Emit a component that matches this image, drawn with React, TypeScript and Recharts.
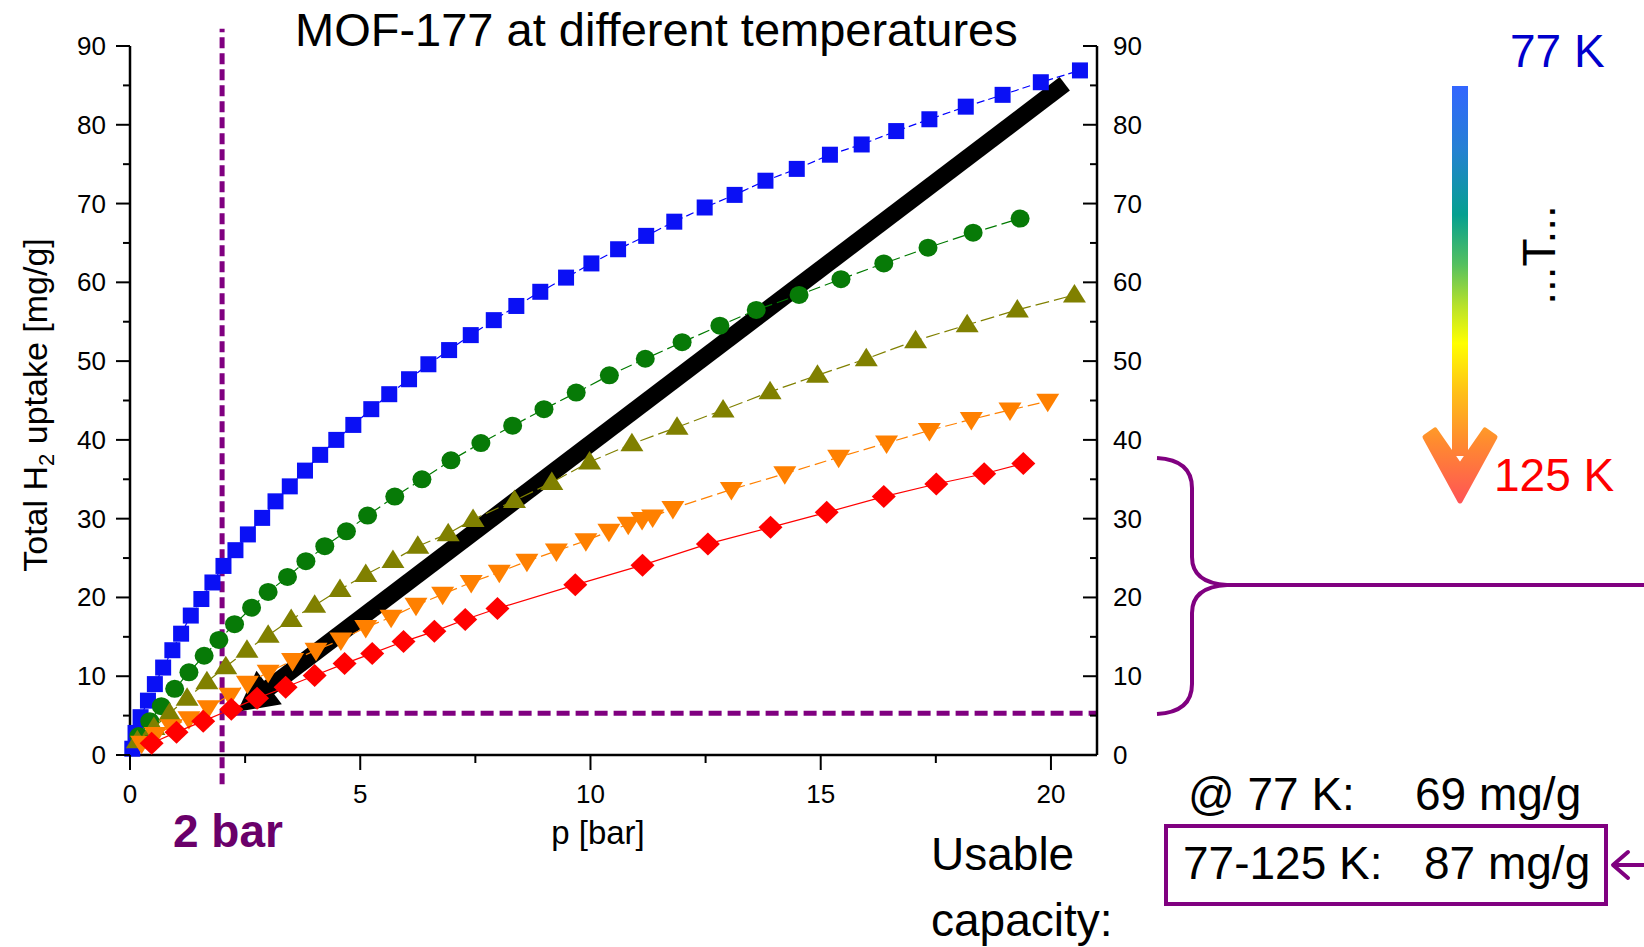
import React from 'react';
import { ComposedChart, Scatter, XAxis, YAxis, ReferenceLine } from 'recharts';

const FONT = '"Liberation Sans", Arial, Helvetica, sans-serif';
const PURPLE = '#800080';

// pressure [bar] and total uptake [mg/g] for each temperature
const p77 = [0.05, 0.12, 0.23, 0.39, 0.54, 0.72, 0.92, 1.11, 1.32, 1.55, 1.79, 2.03, 2.29, 2.56, 2.87, 3.16, 3.47, 3.8, 4.13, 4.48, 4.85, 5.24, 5.63, 6.06, 6.48, 6.93, 7.4, 7.9, 8.39, 8.91, 9.47, 10.02, 10.6, 11.21, 11.82, 12.48, 13.13, 13.8, 14.48, 15.2, 15.89, 16.64, 17.36, 18.15, 18.95, 19.78, 20.63];
const q77 = [0.8, 2.8, 4.8, 6.9, 9.0, 11.1, 13.3, 15.4, 17.7, 19.8, 21.9, 24.0, 26.0, 28.0, 30.1, 32.2, 34.1, 36.1, 38.1, 40.0, 41.9, 43.9, 45.8, 47.7, 49.6, 51.4, 53.3, 55.2, 57.0, 58.8, 60.6, 62.4, 64.2, 65.9, 67.7, 69.5, 71.1, 72.9, 74.4, 76.2, 77.5, 79.2, 80.7, 82.3, 83.8, 85.4, 86.9];

const pGreen = [0.19, 0.43, 0.68, 0.97, 1.28, 1.61, 1.93, 2.27, 2.64, 3.0, 3.42, 3.82, 4.23, 4.7, 5.16, 5.75, 6.34, 6.97, 7.62, 8.31, 8.99, 9.69, 10.41, 11.19, 11.99, 12.81, 13.6, 14.53, 15.44, 16.37, 17.33, 18.31, 19.33];
const qGreen = [2.4, 4.3, 6.2, 8.4, 10.5, 12.6, 14.6, 16.6, 18.7, 20.7, 22.6, 24.6, 26.5, 28.4, 30.4, 32.8, 35.0, 37.4, 39.6, 41.8, 43.9, 46.0, 48.2, 50.3, 52.4, 54.5, 56.5, 58.4, 60.4, 62.4, 64.4, 66.3, 68.1];

const pOlive = [0.16, 0.52, 0.86, 1.24, 1.67, 2.08, 2.54, 3.0, 3.5, 4.01, 4.56, 5.12, 5.71, 6.25, 6.91, 7.45, 8.35, 9.16, 9.98, 10.9, 11.88, 12.88, 13.9, 14.93, 15.99, 17.06, 18.18, 19.27, 20.51];
const qOlive = [1.8, 3.5, 5.3, 7.2, 9.3, 11.2, 13.3, 15.2, 17.2, 19.0, 21.0, 22.9, 24.7, 26.5, 28.1, 29.9, 32.3, 34.6, 37.2, 39.5, 41.6, 43.8, 46.1, 48.2, 50.3, 52.6, 54.6, 56.5, 58.4];

const pOrange = [0.25, 0.55, 0.9, 1.28, 1.7, 2.17, 2.55, 3.0, 3.53, 4.04, 4.58, 5.12, 5.67, 6.21, 6.79, 7.41, 8.02, 8.62, 9.26, 9.9, 10.4, 10.82, 11.12, 11.35, 11.79, 13.06, 14.22, 15.39, 16.43, 17.36, 18.27, 19.11, 19.93];
const qOrange = [1.5, 2.6, 3.6, 4.6, 6.0, 7.6, 9.1, 10.5, 12.0, 13.3, 14.6, 16.2, 17.5, 19.0, 20.4, 21.9, 23.2, 24.6, 25.9, 27.2, 28.4, 29.3, 29.9, 30.2, 31.3, 33.7, 35.7, 37.8, 39.6, 41.2, 42.6, 43.8, 44.9];

const p125 = [0.47, 1.01, 1.59, 2.2, 2.76, 3.38, 4.01, 4.66, 5.26, 5.94, 6.61, 7.28, 7.98, 9.67, 11.13, 12.55, 13.91, 15.13, 16.37, 17.51, 18.55, 19.4];
const q125 = [1.5, 2.9, 4.3, 5.8, 7.2, 8.6, 10.1, 11.6, 12.9, 14.4, 15.7, 17.2, 18.6, 21.6, 24.1, 26.8, 28.9, 30.8, 32.8, 34.4, 35.7, 37.0];

const xTicks = [0, 2.5, 5, 7.5, 10, 12.5, 15, 17.5, 20];
const yTicks = [0, 5, 10, 15, 20, 25, 30, 35, 40, 45, 50, 55, 60, 65, 70, 75, 80, 85, 90];

// annotations, in data units
const limitP = 2;
const limitQ = 5.3;
const arrowFrom = { x: 20.3, y: 85.2 };
const arrowTo = { x: 2.33, y: 5.5 };

const zip = (p: number[], q: number[]) => p.map((v, i) => ({ p: v, q: q[i] }));

const square = (c: string) => (s: any) => (
  <rect x={s.cx - 8} y={s.cy - 8} width={16} height={16} fill={c} />
);
const circle = (c: string) => (s: any) => <ellipse cx={s.cx} cy={s.cy} rx={9.5} ry={9} fill={c} />;
const triUp = (c: string) => (s: any) => (
  <polygon points={`${s.cx},${s.cy - 11} ${s.cx - 11.5},${s.cy + 7.5} ${s.cx + 11.5},${s.cy + 7.5}`} fill={c} />
);
const triDown = (c: string) => (s: any) => (
  <polygon points={`${s.cx},${s.cy + 11} ${s.cx - 11.5},${s.cy - 7.5} ${s.cx + 11.5},${s.cy - 7.5}`} fill={c} />
);
const diamond = (c: string) => (s: any) => (
  <polygon points={`${s.cx},${s.cy - 11.5} ${s.cx + 12},${s.cy} ${s.cx},${s.cy + 11.5} ${s.cx - 12},${s.cy}`} fill={c} />
);

const XTick = ({ x, y, payload }: any) => {
  const major = payload.value % 5 === 0;
  return (
    <g>
      <line x1={x} x2={x} y1={y} y2={y + (major ? 15 : 8)} stroke="#000" strokeWidth={2} />
      {major && (
        <text x={x} y={y + 48} textAnchor="middle" fontSize={26} fontFamily={FONT} fill="#000">
          {payload.value}
        </text>
      )}
    </g>
  );
};

const LeftTick = ({ x, y, payload }: any) => {
  const major = payload.value % 10 === 0;
  return (
    <g>
      <line x1={x - (major ? 14 : 7)} x2={x} y1={y} y2={y} stroke="#000" strokeWidth={2} />
      {major && (
        <text x={x - 24} y={y + 9} textAnchor="end" fontSize={26} fontFamily={FONT} fill="#000">
          {payload.value}
        </text>
      )}
    </g>
  );
};

const RightTick = ({ x, y, payload }: any) => {
  const major = payload.value % 10 === 0;
  return (
    <g>
      <line x1={x} x2={x - (major ? 14 : 7)} y1={y} y2={y} stroke="#000" strokeWidth={2} />
      {major && (
        <text x={x + 16} y={y + 9} textAnchor="start" fontSize={26} fontFamily={FONT} fill="#000">
          {payload.value}
        </text>
      )}
    </g>
  );
};

const BigArrow = (props: any) => {
  const { x1, y1, x2, y2 } = props;
  const dx = x2 - x1;
  const dy = y2 - y1;
  const len = Math.hypot(dx, dy) || 1;
  const ux = dx / len;
  const uy = dy / len;
  const head = 40;
  const half = 21;
  const bx = x2 - ux * head;
  const by = y2 - uy * head;
  return (
    <g>
      <line x1={x1} y1={y1} x2={bx + ux * 4} y2={by + uy * 4} stroke="#000" strokeWidth={17} />
      <polygon
        points={`${x2},${y2} ${bx - uy * half},${by + ux * half} ${bx + uy * half},${by - ux * half}`}
        fill="#000"
      />
    </g>
  );
};

const txt = { fontFamily: FONT, fill: '#000' };

export default function App() {
  return (
    <div style={{ position: 'absolute', left: 0, top: 0, width: 1644, height: 947, background: '#fff' }}>
      <ComposedChart width={1644} height={947} margin={{ top: 46, right: 487, bottom: 132, left: 50 }}>
        <XAxis
          type="number"
          dataKey="p"
          domain={[0, 21]}
          ticks={xTicks}
          interval={0}
          height={60}
          tickSize={0}
          tickMargin={0}
          tickLine={false}
          tick={<XTick />}
          axisLine={{ stroke: '#000', strokeWidth: 2.5 }}
        />
        <YAxis
          type="number"
          dataKey="q"
          domain={[0, 90]}
          ticks={yTicks}
          interval={0}
          width={80}
          tickSize={0}
          tickMargin={0}
          tickLine={false}
          tick={<LeftTick />}
          axisLine={{ stroke: '#000', strokeWidth: 2.5 }}
        />
        <YAxis
          yAxisId="right"
          orientation="right"
          type="number"
          dataKey="q"
          domain={[0, 90]}
          ticks={yTicks}
          interval={0}
          width={60}
          tickSize={0}
          tickMargin={0}
          tickLine={false}
          tick={<RightTick />}
          axisLine={{ stroke: '#000', strokeWidth: 2.5 }}
        />
        <Scatter
          data={zip(p77, q77)}
          fill="#0000ff"
          line={{ stroke: '#0000ff', strokeWidth: 1.2, strokeDasharray: '8 4' }}
          shape={square('#0a10f5')}
          isAnimationActive={false}
        />
        <Scatter
          data={zip(pGreen, qGreen)}
          fill="#007a00"
          line={{ stroke: '#007a00', strokeWidth: 1.2, strokeDasharray: '12 5' }}
          shape={circle('#077a07')}
          isAnimationActive={false}
        />
        <Scatter
          data={zip(pOlive, qOlive)}
          fill="#808000"
          line={{ stroke: '#808000', strokeWidth: 1.2, strokeDasharray: '14 5' }}
          shape={triUp('#808000')}
          isAnimationActive={false}
        />
        <Scatter
          data={zip(pOrange, qOrange)}
          fill="#ff8000"
          line={{ stroke: '#ff8000', strokeWidth: 1.2, strokeDasharray: '12 5' }}
          shape={triDown('#ff8000')}
          isAnimationActive={false}
        />
        <Scatter
          yAxisId="right"
          data={zip(p125, q125)}
          fill="#ff0000"
          line={{ stroke: '#ff0000', strokeWidth: 1.2 }}
          shape={diamond('#ff0000')}
          isAnimationActive={false}
        />
        <ReferenceLine
          segment={[{ x: limitP, y: -3.7 }, { x: limitP, y: 92.2 }]}
          stroke={PURPLE}
          strokeWidth={5}
          strokeDasharray="11 5"
          ifOverflow="visible"
        />
        <ReferenceLine
          segment={[{ x: 2.25, y: limitQ }, { x: 21, y: limitQ }]}
          stroke={PURPLE}
          strokeWidth={5}
          strokeDasharray="13 6"
          ifOverflow="visible"
        />
        <ReferenceLine segment={[arrowFrom, arrowTo]} ifOverflow="visible" shape={BigArrow} />
      </ComposedChart>

      <svg
        width={1644}
        height={947}
        style={{ position: 'absolute', left: 0, top: 0, pointerEvents: 'none' }}
      >
        <defs>
          <linearGradient id="temp" gradientUnits="userSpaceOnUse" x1={0} y1={86} x2={0} y2={501}>
            <stop offset="0" stopColor="#3366ff" />
            <stop offset="0.15" stopColor="#2580d4" />
            <stop offset="0.31" stopColor="#05a090" />
            <stop offset="0.43" stopColor="#55c060" />
            <stop offset="0.53" stopColor="#b8e22a" />
            <stop offset="0.62" stopColor="#ffff00" />
            <stop offset="0.74" stopColor="#ffbf18" />
            <stop offset="0.86" stopColor="#ff8a30" />
            <stop offset="1" stopColor="#ff5555" />
          </linearGradient>
        </defs>

        <text x={295} y={46} fontSize={47} {...txt}>MOF-177 at different temperatures</text>

        <text transform="translate(47,405) rotate(-90)" textAnchor="middle" fontSize={34} {...txt}>
          Total H<tspan dy={7} fontSize={22}>2</tspan>
          <tspan dy={-7}> uptake [mg/g]</tspan>
        </text>
        <text x={598} y={844} textAnchor="middle" fontSize={33} {...txt}>p [bar]</text>
        <text x={173} y={847} fontSize={46} fontWeight="bold" fontFamily={FONT} fill="#6a006a">2 bar</text>

        <text x={931} y={870} fontSize={46} {...txt}>Usable</text>
        <text x={931} y={936} fontSize={46} {...txt}>capacity:</text>
        <text x={1188} y={810} fontSize={46} {...txt}>@ 77 K:</text>
        <text x={1415} y={810} fontSize={46} {...txt}>69 mg/g</text>
        <rect x={1166} y={826} width={440} height={78} fill="none" stroke={PURPLE} strokeWidth={4} />
        <text x={1183} y={879} fontSize={46} {...txt}>77-125 K:</text>
        <text x={1424} y={879} fontSize={46} {...txt}>87 mg/g</text>
        <line x1={1644} y1={865} x2={1613} y2={865} stroke={PURPLE} strokeWidth={4} />
        <polyline points="1628,852 1613,865 1628,878" fill="none" stroke={PURPLE} strokeWidth={4} strokeLinecap="round" strokeLinejoin="round" />

        <path
          d="M1157,458 Q1192,460 1192,488 L1192,557 Q1192,583 1227,585 Q1192,587 1192,613 L1192,684 Q1192,712 1157,714"
          fill="none"
          stroke={PURPLE}
          strokeWidth={4}
        />
        <line x1={1227} y1={585} x2={1644} y2={585} stroke={PURPLE} strokeWidth={4} />

        <rect x={1452} y={86} width={16} height={370} fill="url(#temp)" />
        <polygon
          points="1425,437 1435,430 1460,466 1485,430 1495,437 1460,501"
          fill="url(#temp)"
          stroke="url(#temp)"
          strokeWidth={5}
          strokeLinejoin="round"
        />
        <text x={1510} y={67} fontSize={46} fontFamily={FONT} fill="#0000cc">77 K</text>
        <text x={1494} y={491} fontSize={46} fontFamily={FONT} fill="#ff0000">125 K</text>
        <text transform="translate(1555,255) rotate(-90)" textAnchor="middle" fontSize={46} {...txt}>...T...</text>
      </svg>
    </div>
  );
}
